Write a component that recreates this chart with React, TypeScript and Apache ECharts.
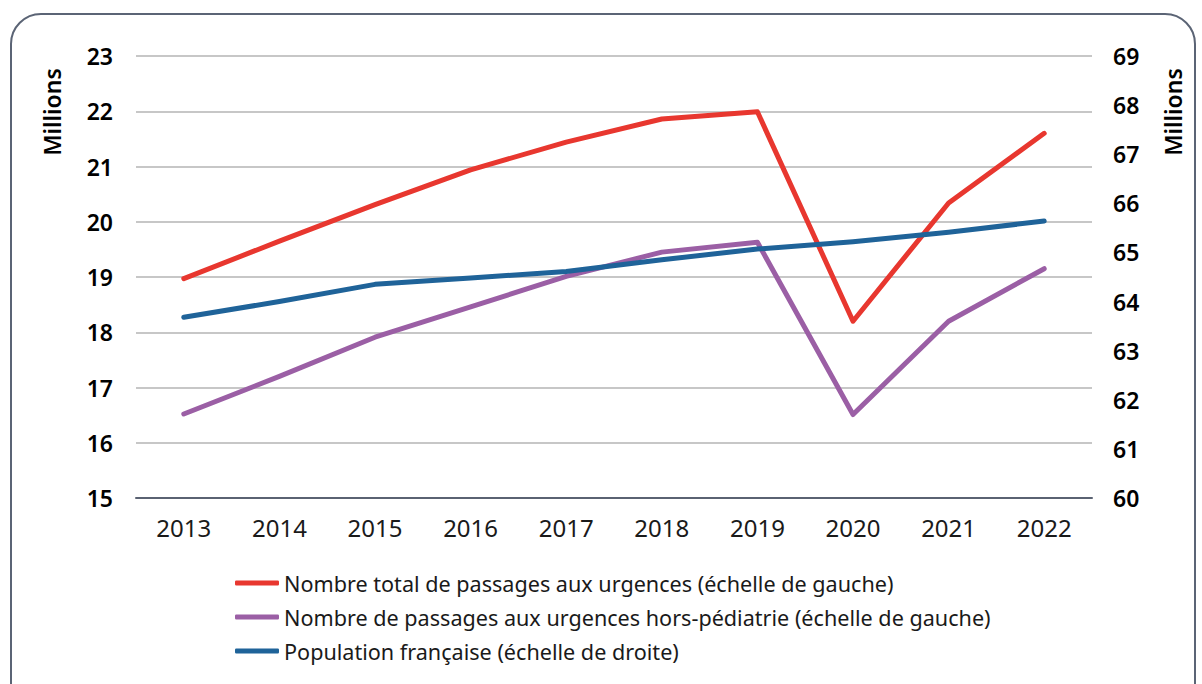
import React, { useEffect, useRef } from "react";
import * as echarts from "echarts";

const years = ["2013", "2014", "2015", "2016", "2017", "2018", "2019", "2020", "2021", "2022"];
const totalPassages = [18.97, 19.65, 20.31, 20.94, 21.44, 21.86, 21.99, 18.2, 20.34, 21.6];
const horsPediatrie = [16.52, 17.2, 17.91, 18.46, 19.01, 19.45, 19.63, 16.51, 18.2, 19.15];
const population = [63.68, 64.0, 64.35, 64.48, 64.61, 64.85, 65.07, 65.22, 65.41, 65.64];

const seriesNames = [
  "Nombre total de passages aux urgences (échelle de gauche)",
  "Nombre de passages aux urgences hors-pédiatrie (échelle de gauche)",
  "Population française (échelle de droite)",
];
const colors = ["#e8372f", "#9b5fa5", "#1f6399"];
const axisTitle = "Millions";

const FONT = "'Noto Sans', 'Open Sans', sans-serif";

export default function App() {
  const ref = useRef<HTMLDivElement>(null);
  useEffect(() => {
    if (!ref.current) return;
    const chart = echarts.init(ref.current, undefined, { renderer: "svg" });
    const lineSeries = (name: string, data: number[], color: string, yAxisIndex: number) => ({
      name,
      type: "line",
      data,
      yAxisIndex,
      symbol: "none",
      lineStyle: { color, width: 5, cap: "round", join: "round" },
      itemStyle: { color },
      z: yAxisIndex === 1 ? 3 : 2,
    });
    chart.setOption({
      animation: false,
      backgroundColor: "#ffffff",
      textStyle: { fontFamily: FONT },
      grid: { left: 136, right: 110, top: 56, bottom: 186 },
      xAxis: {
        type: "category",
        data: years,
        boundaryGap: true,
        axisLine: { show: true, lineStyle: { color: "#5a6272", width: 2 } },
        axisTick: { show: false },
        axisLabel: { color: "#1a1a1a", fontSize: 24, margin: 17, fontFamily: FONT },
        splitLine: { show: false },
      },
      yAxis: [
        {
          type: "value",
          min: 15,
          max: 23,
          interval: 1,
          position: "left",
          axisLine: { show: false },
          axisTick: { show: false },
          axisLabel: { color: "#000", fontSize: 23, fontWeight: 600, margin: 23, fontFamily: FONT },
          splitLine: { show: true, lineStyle: { color: "#b4b4b4", width: 1.5 } },
        },
        {
          type: "value",
          min: 60,
          max: 69,
          interval: 1,
          position: "right",
          axisLine: { show: false },
          axisTick: { show: false },
          axisLabel: { color: "#000", fontSize: 23, fontWeight: 600, margin: 21, fontFamily: FONT },
          splitLine: { show: false },
        },
      ],
      legend: {
        orient: "vertical",
        left: 230,
        top: 567,
        itemWidth: 44,
        itemHeight: 5,
        itemGap: 12,
        icon: "roundRect",
        data: seriesNames,
        textStyle: {
          color: "#1a1a1a",
          fontSize: 21.6,
          lineHeight: 21,
          fontFamily: FONT,
          padding: [0, 0, 0, 0],
        },
      },
      graphic: [
        {
          type: "rect",
          shape: { x: 11, y: 14, width: 1184, height: 720, r: 30 },
          style: { fill: "none", stroke: "#5b6475", lineWidth: 2 },
          silent: true,
          z: -1,
        },
        {
          type: "text",
          x: 52,
          y: 112,
          rotation: Math.PI / 2,
          style: {
            text: axisTitle,
            fill: "#000",
            font: `600 23px ${FONT}`,
            align: "center",
            verticalAlign: "middle",
          },
        },
        {
          type: "text",
          x: 1173,
          y: 112,
          rotation: Math.PI / 2,
          style: {
            text: axisTitle,
            fill: "#000",
            font: `600 23px ${FONT}`,
            align: "center",
            verticalAlign: "middle",
          },
        },
      ],
      series: [
        lineSeries(seriesNames[0], totalPassages, colors[0], 0),
        lineSeries(seriesNames[1], horsPediatrie, colors[1], 0),
        lineSeries(seriesNames[2], population, colors[2], 1),
      ],
    });
    return () => chart.dispose();
  }, []);
  return (
    <div
      ref={ref}
      style={{ position: "fixed", left: 0, top: 0, width: 1202, height: 684, background: "#fff" }}
    />
  );
}
